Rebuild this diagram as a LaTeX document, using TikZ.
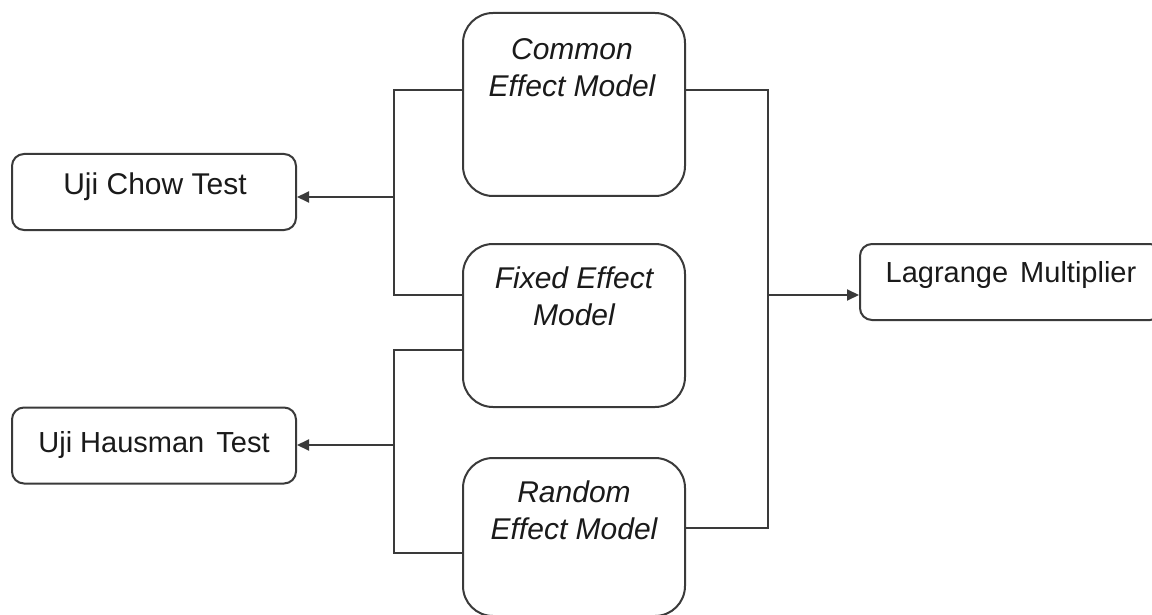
\documentclass[tikz,border=0pt]{standalone}
\usepackage{fontspec}
\setmainfont{Liberation Sans}
\usetikzlibrary{arrows.meta}
\definecolor{ln}{HTML}{3A3A3A}
\definecolor{tx}{HTML}{1A1A1A}
\begin{document}
\begin{tikzpicture}[x=1pt,y=-1pt,
  model/.style={draw=ln,line width=2pt,rounded corners=30pt,minimum width=222pt,inner sep=0pt},
  test/.style={draw=ln,line width=2pt,rounded corners=12pt,minimum height=76pt,inner sep=0pt},
  lbl/.style={text=tx,inner sep=0pt,align=center,font=\fontsize{30}{37}\selectfont},
  conn/.style={draw=ln,line width=2pt},
  arr/.style={conn,-{Triangle[length=12pt,width=11pt]}}]
\clip (0,0) rectangle (1152,615);
\fill[white] (0,0) rectangle (1152,615);
% model boxes
\node[model,minimum height=183pt] (common) at (574,104.5) {};
\node[model,minimum height=163pt] (fixed) at (574,325.5) {};
\node[model,minimum height=158pt] (random) at (574,537) {};
% test boxes
\node[test,minimum width=284pt] (chow) at (154,192) {};
\node[test,minimum width=284pt] (hausman) at (154,445.5) {};
\node[test,minimum width=302pt] (lagrange) at (1011,282) {};
% labels
\node[lbl,anchor=base] (commonT) at (572,97) {\itshape Common\\\itshape Effect Model};
\node[lbl,anchor=base] (fixedT) at (574,325) {\itshape Fixed Effect\\\itshape Model};
\node[lbl,anchor=base] (randomT) at (574,539) {\itshape Random\\\itshape Effect Model};
\node[lbl,anchor=base] (chowT) at (155,194) {Uji Chow Test};
\node[lbl,anchor=base,font=\fontsize{29}{37}\selectfont] (hausmanT) at (154,452) {Uji Hausman\hspace{4pt} Test};
\node[lbl,anchor=base,font=\fontsize{29}{37}\selectfont] (lagrangeT) at (1011,282) {Lagrange\hspace{4pt} Multiplier};
% junction coordinates
\coordinate (j1) at (394,197);
\coordinate (j2) at (394,445);
\coordinate (j3) at (768,295);
% connectors
\draw[conn] (common.west |- 0,90) -| (j1) |- (fixed.west |- 0,295);
\draw[arr] (j1) -- (chow.east |- j1);
\draw[conn] (fixed.west |- 0,350) -| (j2) |- (random.west |- 0,553);
\draw[arr] (j2) -- (hausman.east |- j2);
\draw[conn] (common.east |- 0,90) -| (j3) |- (random.east |- 0,528);
\draw[arr] (j3) -- (lagrange.west |- j3);
\end{tikzpicture}
\end{document}
